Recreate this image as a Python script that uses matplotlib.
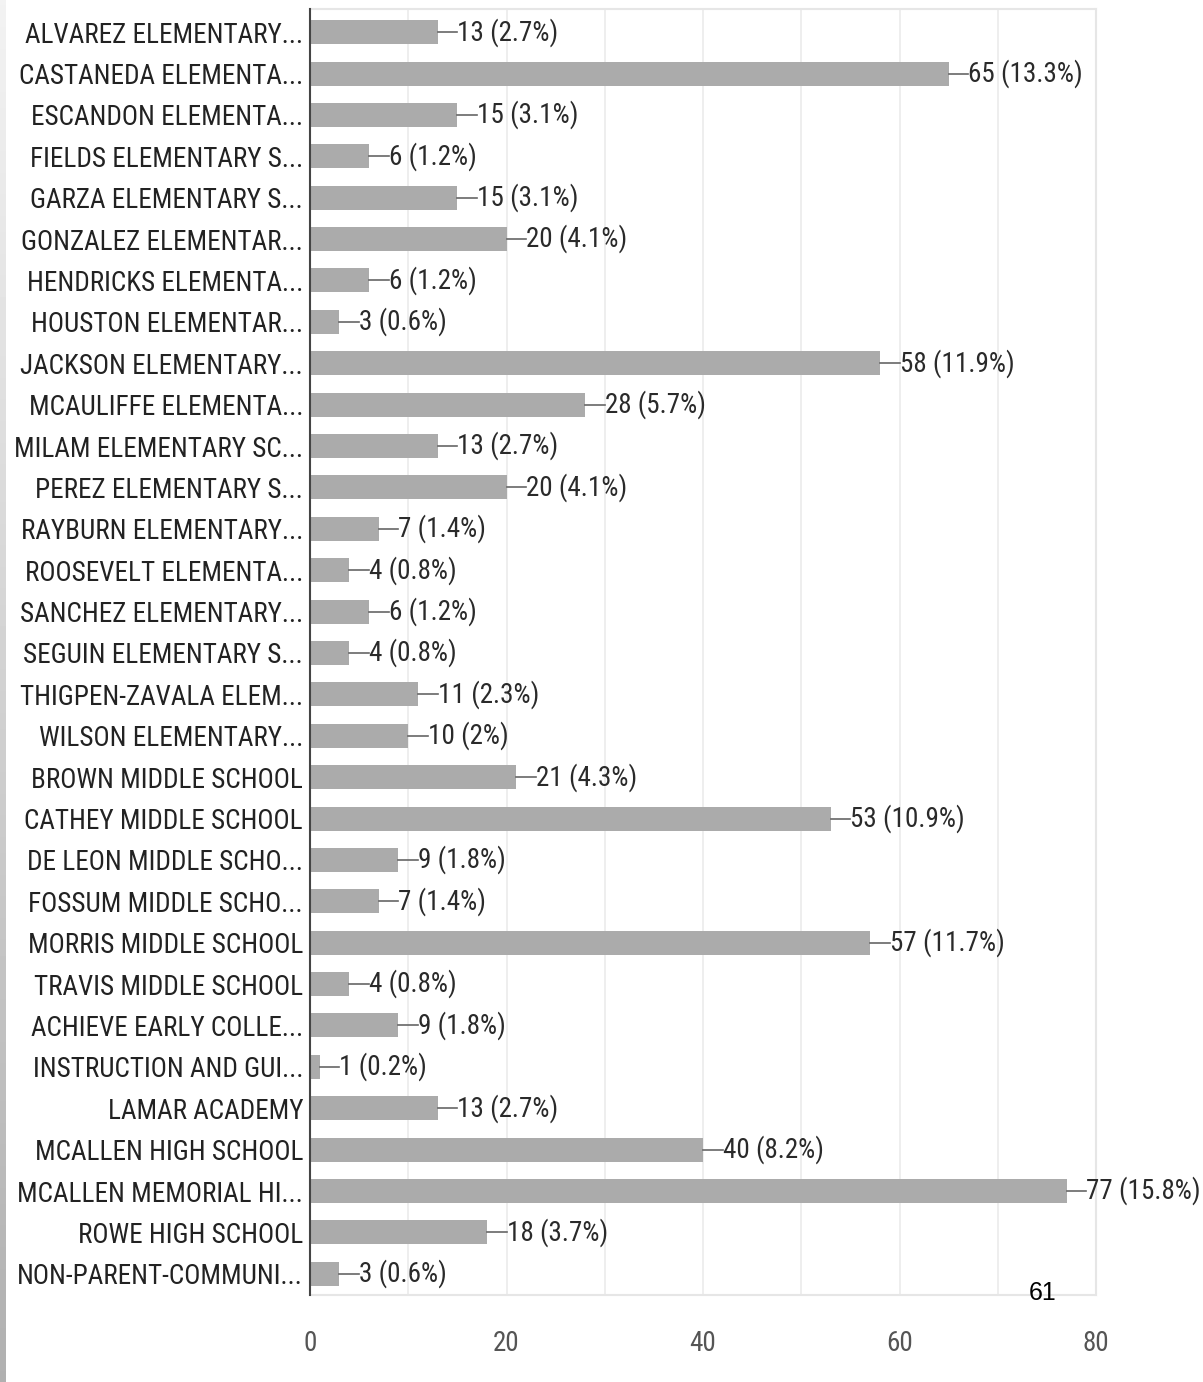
import numpy as np
import matplotlib.pyplot as plt

# school names as they appear (truncated in the source chart)
schools = [
    "ALVAREZ ELEMENTARY...", "CASTANEDA ELEMENTA...", "ESCANDON ELEMENTA...",
    "FIELDS ELEMENTARY S...", "GARZA ELEMENTARY S...", "GONZALEZ ELEMENTAR...",
    "HENDRICKS ELEMENTA...", "HOUSTON ELEMENTAR...", "JACKSON ELEMENTARY...",
    "MCAULIFFE ELEMENTA...", "MILAM ELEMENTARY SC...", "PEREZ ELEMENTARY S...",
    "RAYBURN ELEMENTARY...", "ROOSEVELT ELEMENTA...", "SANCHEZ ELEMENTARY...",
    "SEGUIN ELEMENTARY S...", "THIGPEN-ZAVALA ELEM...", "WILSON ELEMENTARY...",
    "BROWN MIDDLE SCHOOL", "CATHEY MIDDLE SCHOOL", "DE LEON MIDDLE SCHO...",
    "FOSSUM MIDDLE SCHO...", "MORRIS MIDDLE SCHOOL", "TRAVIS MIDDLE SCHOOL",
    "ACHIEVE EARLY COLLE...", "INSTRUCTION AND GUI...", "LAMAR ACADEMY",
    "MCALLEN HIGH SCHOOL", "MCALLEN MEMORIAL HI...", "ROWE HIGH SCHOOL",
    "NON-PARENT-COMMUNI...",
]
counts = [13, 65, 15, 6, 15, 20, 6, 3, 58, 28, 13, 20, 7, 4, 6, 4, 11, 10,
          21, 53, 9, 7, 57, 4, 9, 1, 13, 40, 77, 18, 3]
pcts = ["2.7%", "13.3%", "3.1%", "1.2%", "3.1%", "4.1%", "1.2%", "0.6%",
        "11.9%", "5.7%", "2.7%", "4.1%", "1.4%", "0.8%", "1.2%", "0.8%",
        "2.3%", "2%", "4.3%", "10.9%", "1.8%", "1.4%", "11.7%", "0.8%",
        "1.8%", "0.2%", "2.7%", "8.2%", "15.8%", "3.7%", "0.6%"]
xticks = [0, 20, 40, 60, 80]

narrow = ["Roboto Condensed", "Liberation Sans Narrow", "Roboto", "DejaVu Sans"]
fs = 19.5

fig = plt.figure(figsize=(12.03, 13.82), dpi=100)
ax = fig.add_axes([0.2577, 0.063, 0.6534, 0.9305])

y = np.arange(len(schools))
ax.barh(y, counts, height=0.58, color="#ababab", zorder=2)

# leader line + value label for each bar
for yi, c, p in zip(y, counts, pcts):
    ax.plot([c, c + 2.0], [yi, yi], color="#666666", lw=1.2, zorder=3)
    ax.text(c + 2.0, yi, f"{c} ({p})", va="center", ha="left",
            fontsize=fs, color="#2a2a2a", family=narrow)

ax.set_xlim(0, 80)
ax.set_ylim(len(schools) - 0.49, -0.56)
ax.set_yticks(y)
ax.set_yticklabels(schools, family=narrow, fontsize=fs, color="#222222")
ax.set_xticks(xticks)
ax.set_xticklabels([str(t) for t in xticks], family=narrow, fontsize=fs,
                   color="#555555")
ax.set_xticks(np.arange(10, 80, 20), minor=True)
ax.tick_params(axis="y", length=0, pad=5)
ax.tick_params(axis="x", which="both", length=0, pad=25)

ax.grid(axis="x", which="both", color="#ebebeb", lw=1.2, zorder=0)
for s in ["top", "right", "bottom"]:
    ax.spines[s].set_color("#e6e6e6")
    ax.spines[s].set_linewidth(1.5)
ax.spines["left"].set_color("#444444")
ax.spines["left"].set_linewidth(1.5)
ax.spines["left"].set_zorder(4)

# small page number
fig.text(1043 / 1203, 1 - 1293 / 1382, "61", ha="center", va="center",
         fontsize=18, color="black", family="Liberation Sans")

# grey gradient strip on the left edge
strip = fig.add_axes([0, 0, 6 / 1203, 1])
grad = np.linspace(0.95, 0.69, 256).reshape(-1, 1)
strip.imshow(grad, aspect="auto", cmap="gray", vmin=0, vmax=1,
             extent=[0, 1, 0, 1], origin="upper")
strip.axis("off")

fig.savefig("out.png", dpi=100)
